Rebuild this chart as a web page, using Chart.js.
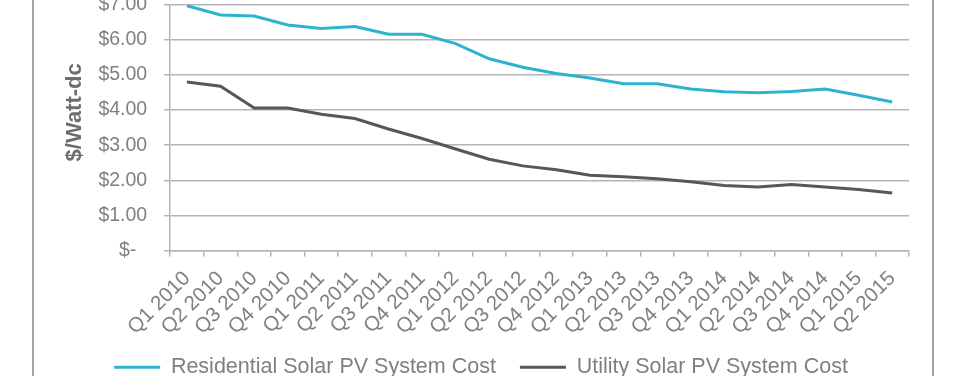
<!DOCTYPE html>
<html>
<head>
<meta charset="utf-8">
<script src="https://cdn.jsdelivr.net/npm/chart.js@4"></script>
<style>
  html, body { margin: 0; padding: 0; background: #fff; overflow: hidden; width: 960px; height: 376px; }
  #frame { position: absolute; left: 32px; top: -10px; width: 898px; height: 400px; border-left: 2px solid #a3a3a3; border-right: 2px solid #a3a3a3; }
  #chart { position: absolute; left: 35px; top: -24px; }
</style>
</head>
<body>
<div id="frame"></div>
<canvas id="chart" width="895" height="412"></canvas>
<script>
const quarters = ['Q1 2010', 'Q2 2010', 'Q3 2010', 'Q4 2010', 'Q1 2011', 'Q2 2011', 'Q3 2011', 'Q4 2011',
    'Q1 2012', 'Q2 2012', 'Q3 2012', 'Q4 2012', 'Q1 2013', 'Q2 2013', 'Q3 2013', 'Q4 2013',
    'Q1 2014', 'Q2 2014', 'Q3 2014', 'Q4 2014', 'Q1 2015', 'Q2 2015'];
const residential = [6.97, 6.71, 6.68, 6.42, 6.32, 6.38, 6.16, 6.16, 5.89, 5.46, 5.22, 5.04,
    4.91, 4.75, 4.75, 4.60, 4.52, 4.49, 4.53, 4.60, 4.42, 4.23];
const utility = [4.80, 4.68, 4.06, 4.06, 3.88, 3.76, 3.46, 3.19, 2.89, 2.60, 2.41, 2.30,
    2.14, 2.10, 2.04, 1.96, 1.85, 1.81, 1.88, 1.81, 1.74, 1.64];
const yTickLabels = ['$-  ', '$1.00', '$2.00', '$3.00', '$4.00', '$5.00', '$6.00', '$7.00'];

const FONT = "'Liberation Sans', Arial, sans-serif";
const GREY = '#808080';
const GRID = '#b4b4b4';

const ctx = document.getElementById('chart');

new Chart(ctx, {
    type: 'line',
    data: {
        labels: quarters,
        datasets: [{
            label: 'Residential Solar PV System Cost',
            data: residential,
            borderColor: '#2cb4cd',
            backgroundColor: '#2cb4cd',
            borderWidth: 3,
            pointRadius: 0,
            tension: 0
        }, {
            label: 'Utility Solar PV System Cost',
            data: utility,
            borderColor: '#575757',
            backgroundColor: '#575757',
            borderWidth: 3,
            pointRadius: 0,
            tension: 0
        }]
    },
    options: {
        responsive: false,
        animation: false,
        layout: { padding: { left: 18, right: 21, top: 6, bottom: 0 } },
        plugins: {
            tooltip: { enabled: false },
            legend: {
                position: 'bottom',
                labels: {
                    usePointStyle: true,
                    pointStyle: 'line',
                    pointStyleWidth: 46,
                    padding: 24,
                    color: GREY,
                    font: { family: FONT, size: 21.5 }
                }
            }
        },
        scales: {
            x: {
                offset: true,
                grid: { offset: true, drawOnChartArea: false, color: GRID, lineWidth: 1.5, tickLength: 6 },
                border: { color: GRID, width: 1.5 },
                ticks: {
                    color: GREY,
                    font: { family: FONT, size: 20.5 },
                    minRotation: 45,
                    maxRotation: 45,
                    autoSkip: false,
                    padding: 10
                },
                // let the slanted labels run into the legend's top padding
                afterFit: (scale) => { scale.height -= 17; }
            },
            y: {
                min: 0,
                max: 7,
                grid: { color: GRID, lineWidth: 1.5, tickLength: 6 },
                border: { color: GRID, width: 1.5 },
                ticks: {
                    stepSize: 1,
                    color: GREY,
                    padding: 17,
                    font: { family: FONT, size: 19.5 },
                    callback: (v, i) => yTickLabels[i]
                },
                title: {
                    display: true,
                    text: '     $/Watt-dc',
                    color: '#6e6e6e',
                    padding: { top: 9, bottom: -7 },
                    font: { family: FONT, size: 22, weight: 'bold' }
                }
            }
        }
    }
});
</script>
</body>
</html>
